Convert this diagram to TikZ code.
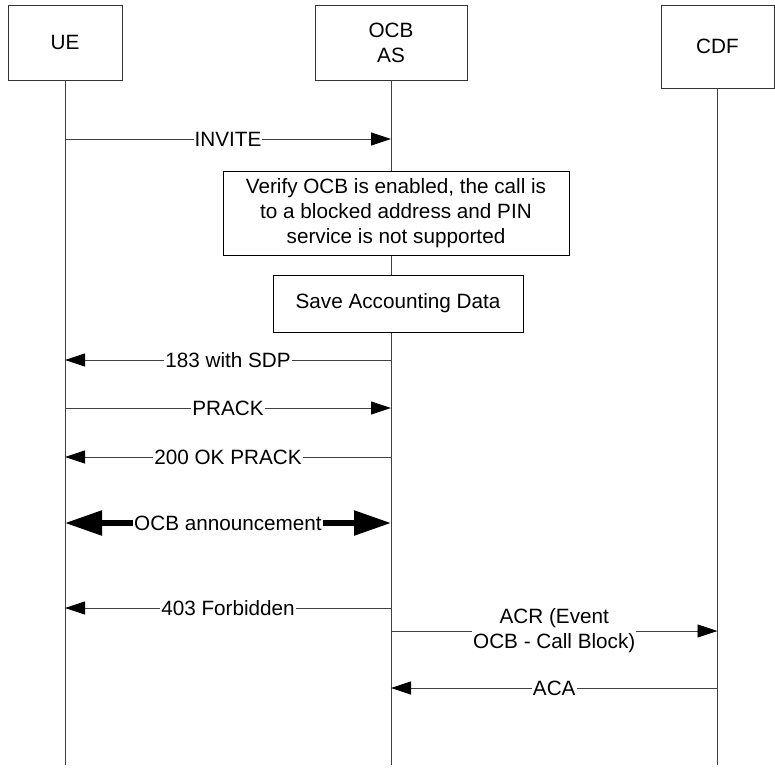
\documentclass[tikz,border=0pt]{standalone}
\usepackage{fontspec}
\setmainfont{Liberation Sans}
\usetikzlibrary{arrows.meta}
\tikzset{
	entity/.style={draw=black!80, line width=0.8pt, fill=white, align=center, inner sep=0pt},
	lifeline/.style={draw=black!75, line width=0.8pt},
	msg/.style={draw=black!75, line width=0.8pt, -{Triangle[length=20pt,width=13pt,color=black]}},
	bigmsg/.style={draw=black, line width=5.5pt, {Triangle[length=37pt,width=24pt]}-{Triangle[length=37pt,width=24pt]}},
	lbl/.style={fill=white, inner sep=1pt, align=center},
	action/.style={draw=black, line width=0.8pt, fill=white, align=center, inner sep=0pt}
}

\begin{document}
\begin{tikzpicture}[x=1pt, y=-1pt, font=\fontsize{20.7}{25}\selectfont]
			%%%%% START %%%%%
			
			\useasboundingbox (0, 0) rectangle (775, 771);
			
			\node[entity, minimum width=114, minimum height=75] (ue) at (65, 42.5) {UE};
			\node[entity, minimum width=152, minimum height=75] (ocb) at (391, 42.5) {OCB\\AS};
			\node[entity, minimum width=113, minimum height=83] (cdf) at (717.5, 46.5) {CDF};
			
			\draw[lifeline] (ue.south) -- (ue.south |- 0, 765);
			\draw[lifeline] (ocb.south) -- (ocb.south |- 0, 765);
			\draw[lifeline] (cdf.south) -- (cdf.south |- 0, 765);
			
			\draw[msg] (ue.south |- 0, 139) -- node[lbl] {INVITE} (ocb.south |- 0, 139);
			
			\node[action, minimum width=346, minimum height=84] (verify) at (396, 213) {Verify OCB is enabled, the call is\\to a blocked address and PIN\\service is not supported};
			\node[action, minimum width=250, minimum height=57] (save) at (398, 303.5) {Save Accounting Data};
			
			\draw[msg] (ocb.south |- 0, 360) -- node[lbl] {183 with SDP} (ue.south |- 0, 360);
			\draw[msg] (ue.south |- 0, 408) -- node[lbl] {PRACK} (ocb.south |- 0, 408);
			\draw[msg] (ocb.south |- 0, 457) -- node[lbl] {200 OK PRACK} (ue.south |- 0, 457);
			
			\draw[bigmsg] (ue.south |- 0, 523) -- node[lbl] {OCB announcement} (ocb.south |- 0, 523);
			
			\draw[msg] (ocb.south |- 0, 608) -- node[lbl] {403 Forbidden} (ue.south |- 0, 608);
			\draw[msg] (ocb.south |- 0, 631) -- node[lbl] {ACR (Event\\OCB - Call Block)} (cdf.south |- 0, 631);
			\draw[msg] (cdf.south |- 0, 688) -- node[lbl] {ACA} (ocb.south |- 0, 688);
			
			%%%%% END %%%%%
\end{tikzpicture}
\end{document}
